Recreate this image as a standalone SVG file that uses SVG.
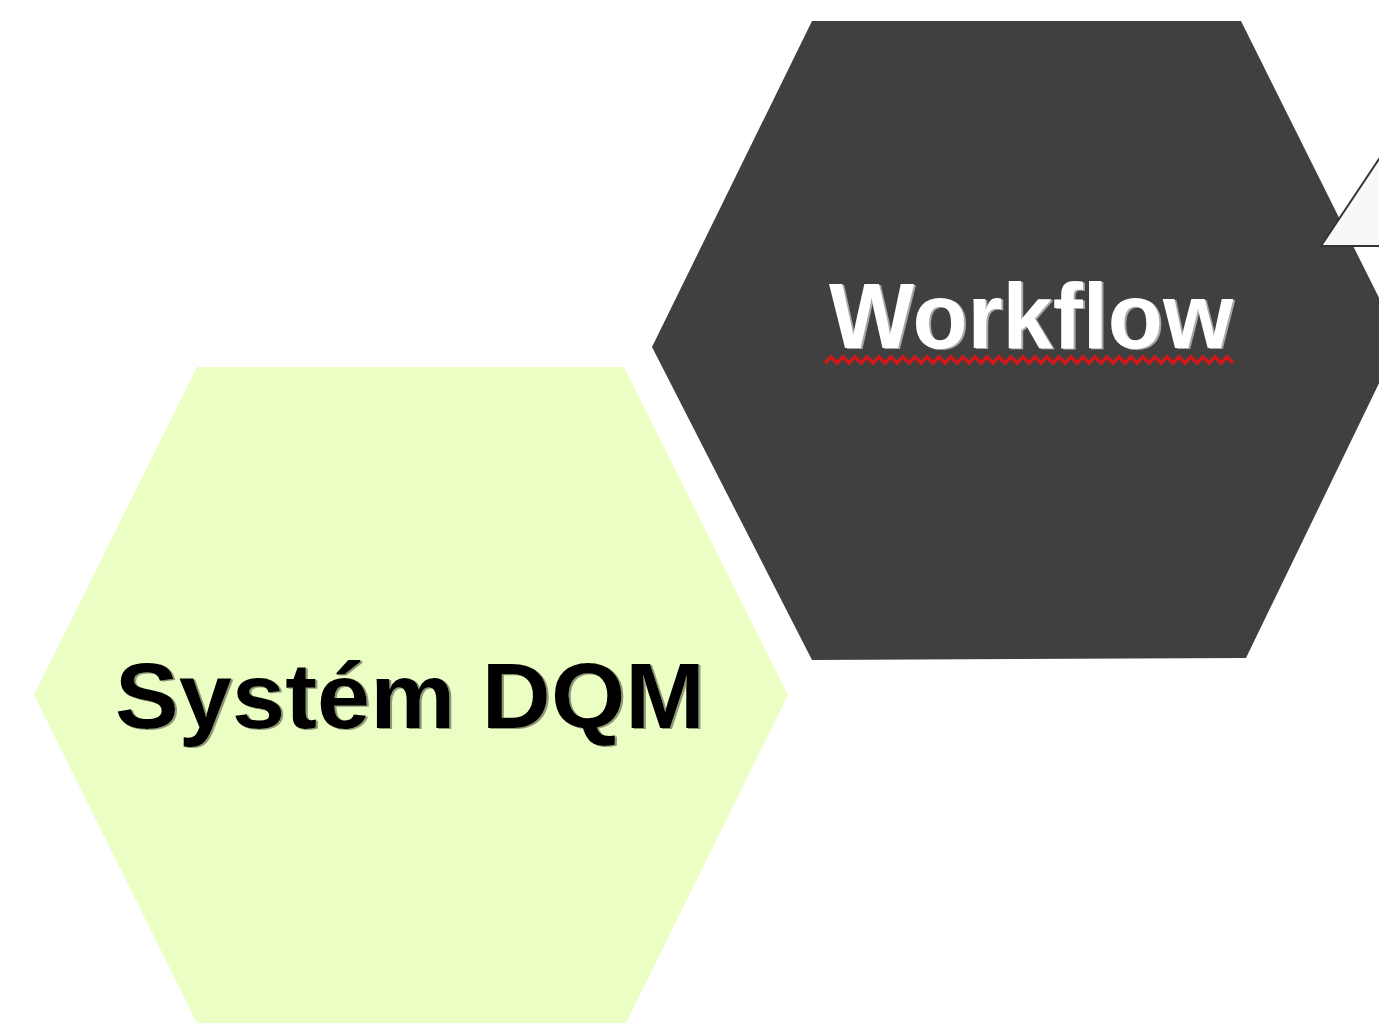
<svg xmlns="http://www.w3.org/2000/svg" width="1379" height="1023" viewBox="0 0 1379 1023">
  <style>
    .label { font-family: "Liberation Sans", Arial, sans-serif; font-weight: bold; text-anchor: middle; }
    .hex-dark { fill: #404040; }
    .hex-green { fill: #ebfec4; }
    .callout { fill: #f8f8f8; stroke: #333333; stroke-width: 2; stroke-linejoin: miter; }
    .spell { fill: none; stroke: #d41818; stroke-width: 3.5; }
  </style>
  <defs>
    <filter id="shadow-light" x="-5%" y="-20%" width="110%" height="140%">
      <feDropShadow dx="2" dy="1" stdDeviation="0.5" flood-color="#a8a8a8" flood-opacity="1"/>
    </filter>
    <filter id="shadow-green" x="-5%" y="-20%" width="110%" height="140%">
      <feDropShadow dx="2" dy="1" stdDeviation="0.5" flood-color="#8f9878" flood-opacity="1"/>
    </filter>
  </defs>
  <rect width="1379" height="1023" fill="#ffffff"/>

  <!-- Workflow hexagon -->
  <g id="node-workflow">
    <polygon class="hex-dark" points="812,21 1241,21 1400,340 1246,658 812,660 652,347"/>
    <text class="label" x="1031" y="348" font-size="92" fill="#ffffff" textLength="404" lengthAdjust="spacingAndGlyphs" filter="url(#shadow-light)">Workflow</text>
    <!-- wavy spelling underline: 34 zigzag periods of 12px -->
    <path class="spell" d="M825,363
      l6,-6 l6,6 l6,-6 l6,6 l6,-6 l6,6 l6,-6 l6,6 l6,-6 l6,6
      l6,-6 l6,6 l6,-6 l6,6 l6,-6 l6,6 l6,-6 l6,6 l6,-6 l6,6
      l6,-6 l6,6 l6,-6 l6,6 l6,-6 l6,6 l6,-6 l6,6 l6,-6 l6,6
      l6,-6 l6,6 l6,-6 l6,6 l6,-6 l6,6 l6,-6 l6,6 l6,-6 l6,6
      l6,-6 l6,6 l6,-6 l6,6 l6,-6 l6,6 l6,-6 l6,6 l6,-6 l6,6
      l6,-6 l6,6 l6,-6 l6,6 l6,-6 l6,6 l6,-6 l6,6 l6,-6 l6,6
      l6,-6 l6,6 l6,-6 l6,6 l6,-6 l6,6 l6,-6 l6,6"/>
  </g>

  <!-- Callout pointer entering from the right edge -->
  <g id="node-callout">
    <polygon class="callout" points="1321,246 1381,156 1381,246"/>
  </g>

  <!-- Systém DQM hexagon -->
  <g id="node-dqm">
    <polygon class="hex-green" points="197,367 624,367 788,695 626,1023 197,1023 34,695"/>
    <text class="label" x="410" y="728" font-size="93" fill="#000000" textLength="590" lengthAdjust="spacingAndGlyphs" filter="url(#shadow-green)">Systém DQM</text>
  </g>

  <g id="connectors"/>
</svg>
